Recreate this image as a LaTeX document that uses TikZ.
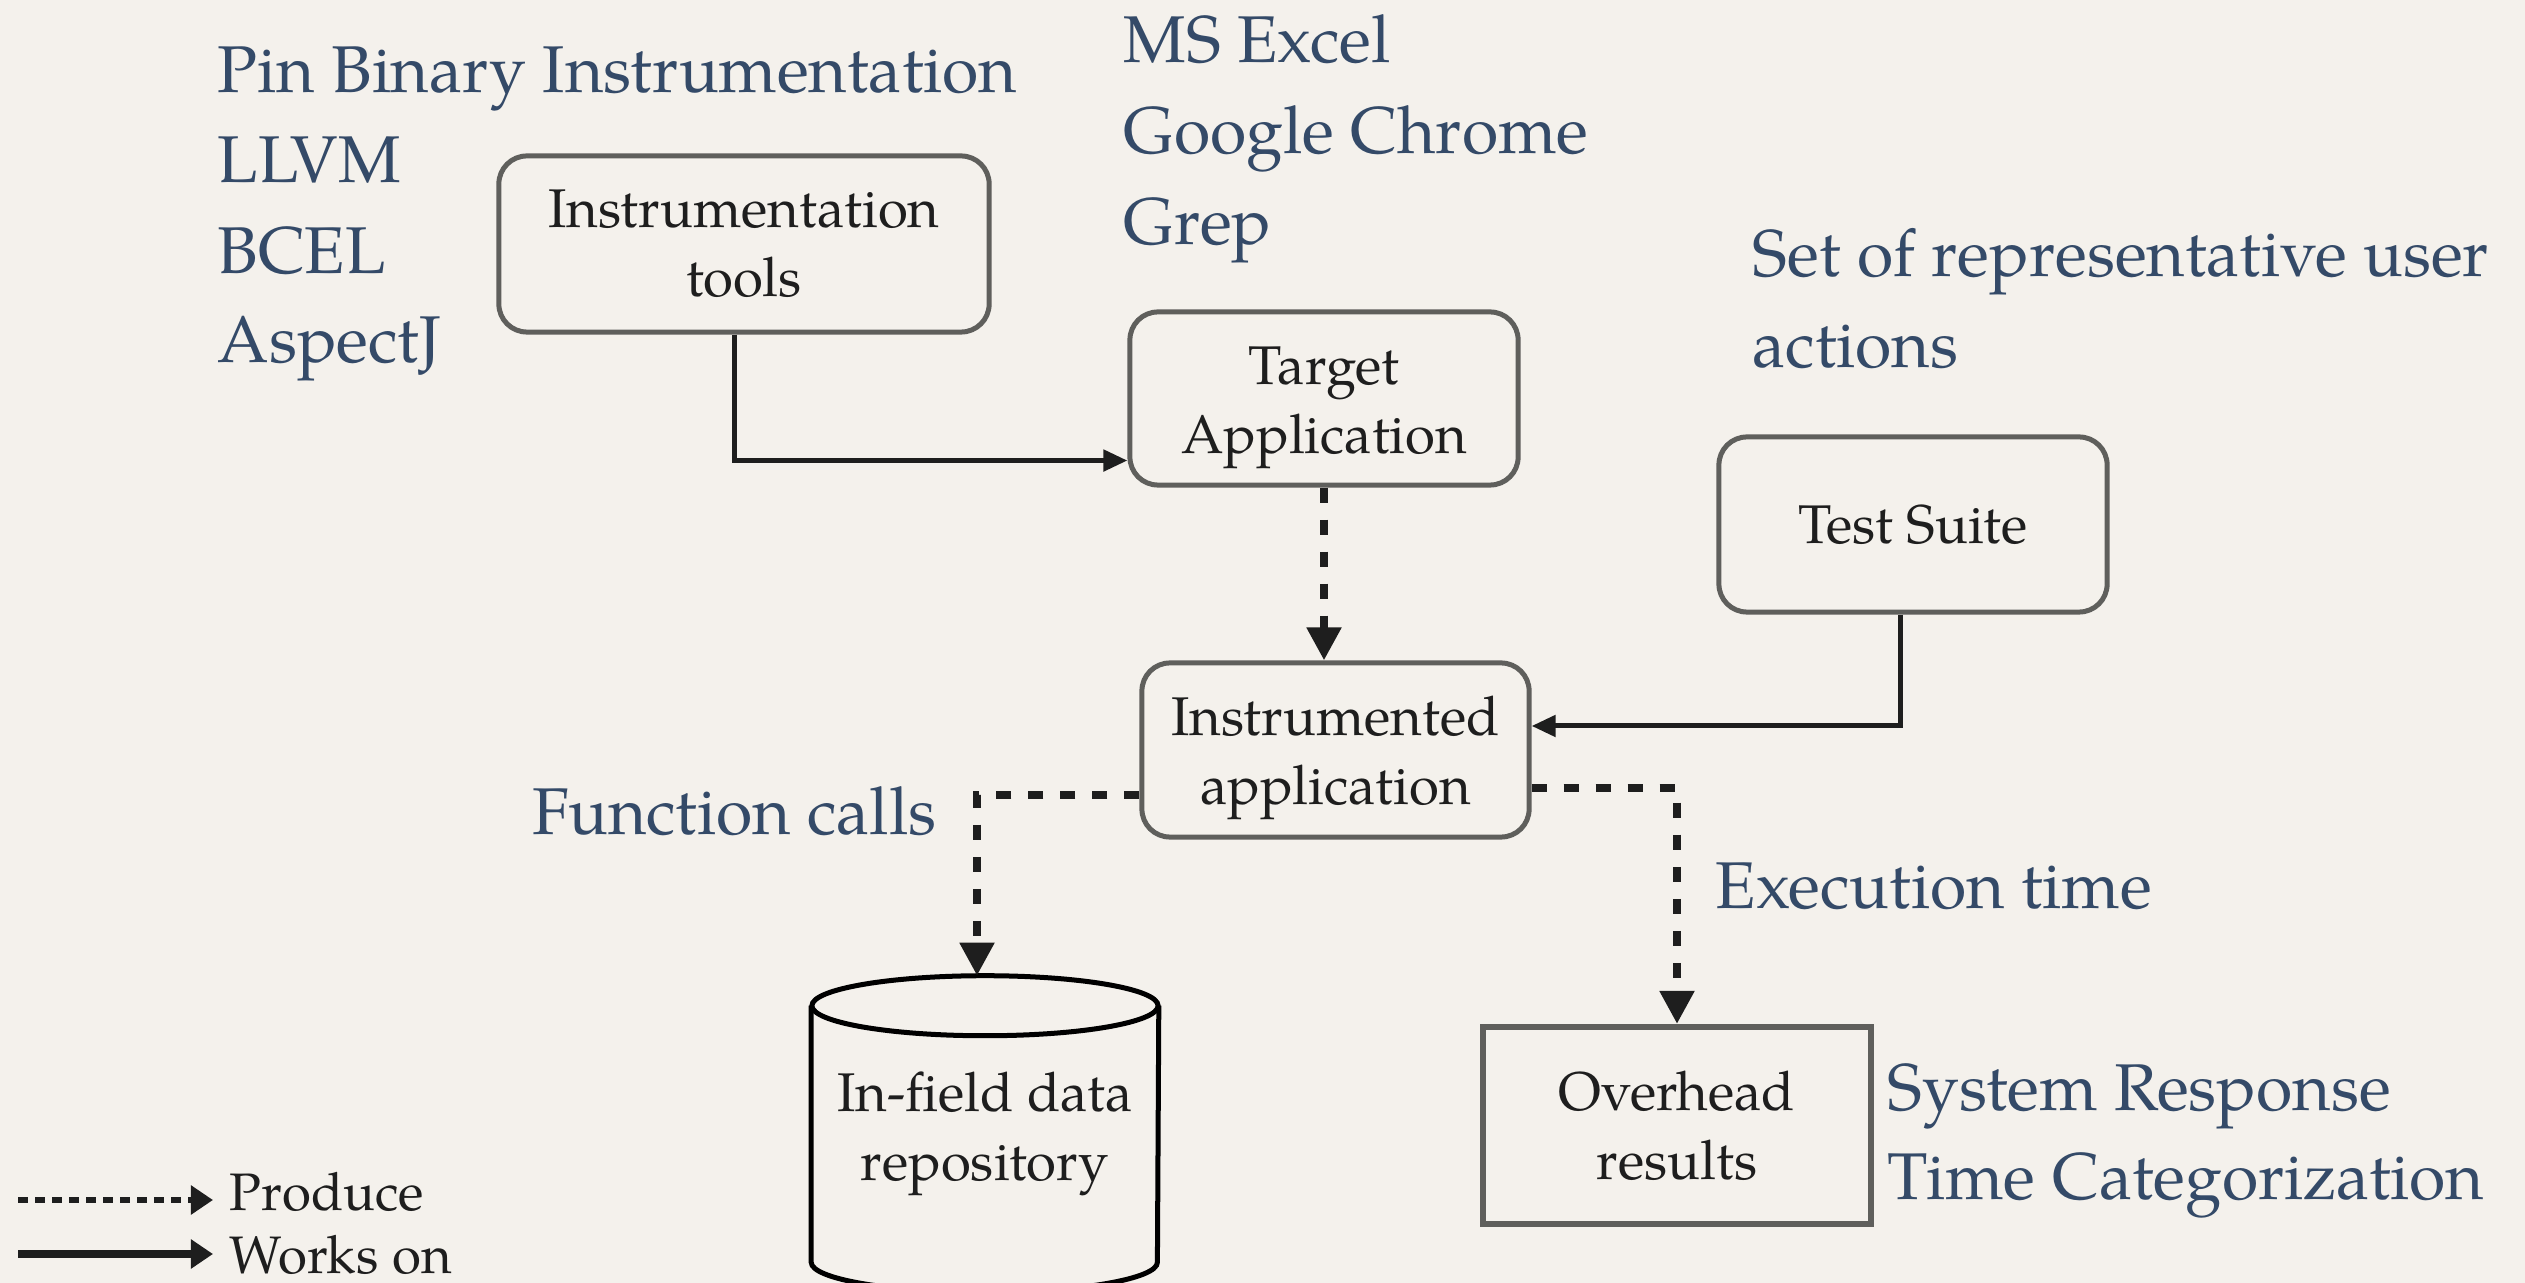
\documentclass[tikz,border=0pt]{standalone}
\usepackage{fontspec}
\setmainfont{TeX Gyre Pagella}
\usetikzlibrary{arrows.meta}

\definecolor{paper}{RGB}{244,241,236}
\definecolor{bluetxt}{RGB}{52,74,104}
\definecolor{boxline}{RGB}{95,95,92}
\definecolor{ink}{RGB}{30,30,30}

\newcommand\boxfont{\fontsize{15.5}{19.6}\selectfont}
\newcommand\bluefont{\fontsize{18.8}{25}\selectfont}
\newcommand\legfont{\fontsize{15}{18}\selectfont}
% taller first line, lowers two-line box labels a little
\newcommand\toppad{\rule{0pt}{0.56cm}}

\begin{document}
\begin{tikzpicture}[x=0.01cm, y=-0.01cm,
  box/.style={draw=boxline, line width=0.05cm, rounded corners=0.28cm,
    align=center, font=\boxfont, text=ink, inner sep=0},
  plainbox/.style={draw=boxline, line width=0.06cm, align=center,
    font=\boxfont, text=ink, inner sep=0},
  note/.style={anchor=base west, inner sep=0, font=\bluefont, text=bluetxt},
  legtext/.style={anchor=base west, inner sep=0, font=\legfont, text=ink},
  produce/.style={draw=ink, line width=0.08cm, dash pattern=on 0.15cm off 0.17cm,
    -{Triangle[length=0.33cm, width=0.33cm]}},
  works/.style={draw=ink, line width=0.05cm,
    -{Triangle[length=0.24cm, width=0.21cm]}},
  legdash/.style={draw=ink, line width=0.065cm, dash pattern=on 0.1cm off 0.07cm,
    -{Triangle[length=0.22cm, width=0.28cm]}},
  legsolid/.style={draw=ink, line width=0.075cm,
    -{Triangle[length=0.22cm, width=0.28cm]}},
  cyl/.style={draw=black, line width=0.05cm}
]
% paper background
\fill[paper] (0,0) rectangle (2525,1283);
\useasboundingbox (0,0) rectangle (2525,1283);

% process boxes
\node[box, minimum width=4.9cm, minimum height=1.76cm] (tools) at (744,244) {Instrumentation\\tools};
\node[box, minimum width=3.88cm, minimum height=1.73cm] (target) at (1324,398.5) {\toppad Target\\Application};
\node[box, minimum width=3.87cm, minimum height=1.74cm] (instr) at (1335.5,750) {\toppad Instrumented\\application};
\node[box, minimum width=3.88cm, minimum height=1.75cm] (test) at (1913,524.5) {Test Suite};
\node[plainbox, minimum width=3.88cm, minimum height=1.97cm] (overhead) at (1677,1125.5) {Overhead\\results};

% data repository drawn as a cylinder around a named node
\node[align=center, font=\boxfont, text=ink, inner sep=0,
      minimum width=3.46cm, minimum height=3.15cm] (repo) at (985,1134) {In-field data\\repository};
\draw[cyl] ([yshift=-0.3cm]repo.north) ellipse [x radius=1.73cm, y radius=0.3cm];
\draw[cyl] ([yshift=-0.3cm]repo.north west) -- ([yshift=0.3cm]repo.south west)
  arc[start angle=180, end angle=360, x radius=1.73cm, y radius=0.3cm]
  -- ([yshift=-0.3cm]repo.north east);

% connectors
\draw[works] ([xshift=-0.1cm]tools.south) |- ([yshift=-0.62cm]target.west);
\draw[produce] (target.south) -- (target.south |- instr.north);
\draw[works] ([xshift=-0.13cm]test.south) |- ([yshift=0.24cm]instr.east);
\draw[produce] ([yshift=-0.45cm]instr.west) -| ([xshift=-0.08cm]repo.north);
\draw[produce] ([yshift=-0.38cm]instr.east) -| (overhead.north);

% annotations
\node[note] (pin)   at (217,93)  {Pin Binary Instrumentation};
\node[note] (llvm)  at (217,183) {LLVM};
\node[note] (bcel)  at (217,274) {BCEL};
\node[note] (aspj)  at (217,363) {AspectJ};
\node[note] (excel) at (1123,63)  {MS Excel};
\node[note] (chrome) at (1123,154) {Google Chrome};
\node[note] (grep)  at (1123,245) {Grep};
\node[note] (set1)  at (1752,277) {Set of representative user};
\node[note] (set2)  at (1752,368) {actions};
\node[note] (fcalls) at (532,834) {Function calls};
\node[note] (etime) at (1715,908) {Execution time};
\node[note] (srt1)  at (1887,1110) {System Response};
\node[note] (srt2)  at (1887,1199) {Time Categorization};

% legend
\coordinate (ldash0) at (18,1200);
\coordinate (ldash1) at (213,1200);
\coordinate (lsolid0) at (18,1254);
\coordinate (lsolid1) at (213,1254);
\draw[legdash] (ldash0) -- (ldash1);
\draw[legsolid] (lsolid0) -- (lsolid1);
\node[legtext] (lprod) at (229,1210) {Produce};
\node[legtext] (lworks) at (229,1273) {Works on};
\end{tikzpicture}
\end{document}
